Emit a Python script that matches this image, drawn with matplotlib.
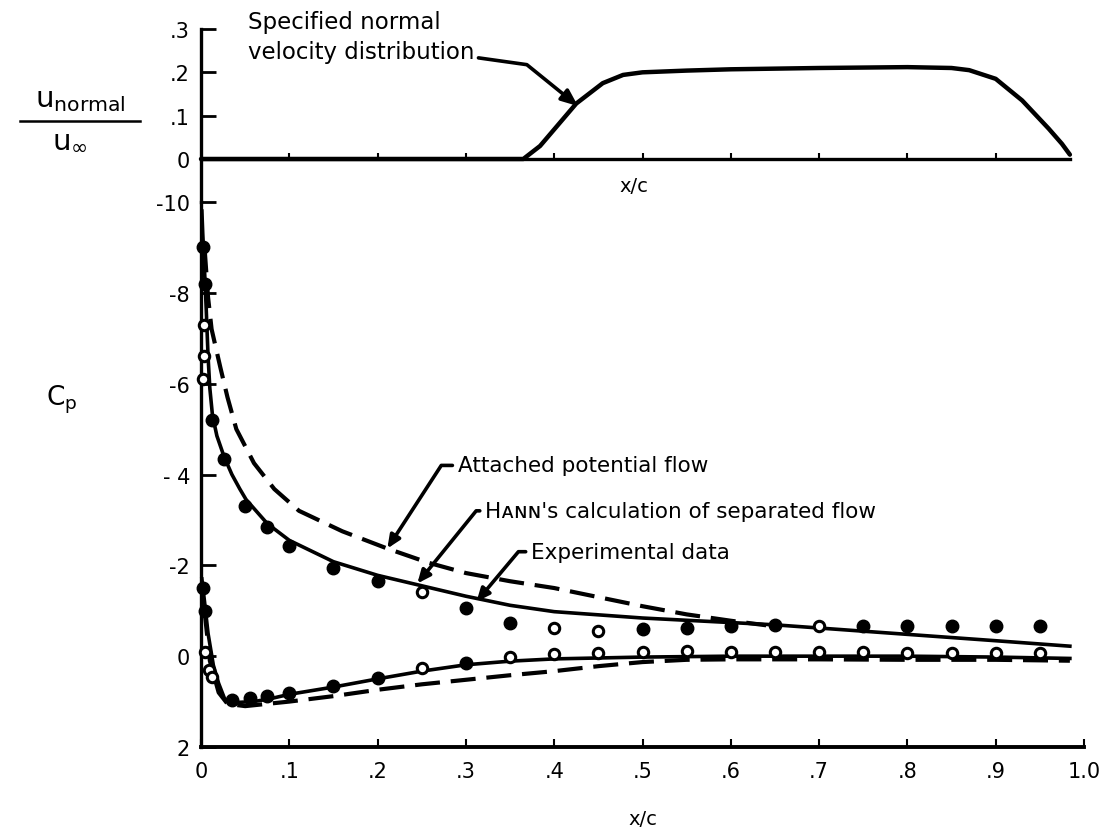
import matplotlib.pyplot as plt
from matplotlib.lines import Line2D

plt.rcParams['font.family'] = ['DejaVu Sans']

# top panel: specified normal velocity distribution
vn_x = [0.0, 0.365, 0.384, 0.425, 0.455, 0.478, 0.50, 0.55, 0.60, 0.70, 0.80,
        0.85, 0.87, 0.90, 0.93, 0.96, 0.975, 0.984]
vn_u = [0.0, 0.0, 0.03, 0.128, 0.175, 0.194, 0.200, 0.204, 0.207, 0.210, 0.212,
        0.210, 0.205, 0.185, 0.135, 0.070, 0.035, 0.010]

# Hahn's calculation of separated flow (solid), upper and lower surface
hahn_up_x = [0.001, 0.002, 0.004, 0.006, 0.008, 0.010, 0.013, 0.018, 0.026, 0.035,
             0.044, 0.051, 0.075, 0.10, 0.15, 0.20, 0.25, 0.30, 0.35, 0.40,
             0.50, 0.60, 0.65, 0.70, 0.80, 0.90, 0.984]
hahn_up_cp = [-9.8, -9.3, -8.5, -7.6, -6.6, -5.9, -5.3, -4.85, -4.4, -4.0,
              -3.68, -3.45, -2.92, -2.55, -2.08, -1.78, -1.55, -1.32, -1.12, -0.98,
              -0.84, -0.74, -0.69, -0.62, -0.48, -0.34, -0.22]
hahn_lo_x = [0.001, 0.004, 0.008, 0.014, 0.02, 0.027, 0.04, 0.06, 0.08, 0.10,
             0.15, 0.20, 0.25, 0.30, 0.35, 0.40, 0.50, 0.60, 0.70, 0.80, 0.90, 0.984]
hahn_lo_cp = [-1.7, -1.2, -0.5, 0.2, 0.6, 0.95, 1.02, 1.0, 0.93, 0.84,
              0.68, 0.50, 0.33, 0.19, 0.11, 0.06, 0.02, 0.0, 0.0, 0.0, 0.02, 0.05]

# attached potential flow (dashed)
att_up_x = [0.004, 0.008, 0.012, 0.022, 0.03, 0.04, 0.06, 0.083, 0.111, 0.16,
            0.211, 0.257, 0.30, 0.35, 0.40, 0.45, 0.50, 0.55, 0.60, 0.64]
att_up_cp = [-9.0, -7.9, -7.2, -6.35, -5.7, -5.0, -4.25, -3.68, -3.2, -2.75,
             -2.37, -2.06, -1.83, -1.65, -1.5, -1.3, -1.1, -0.92, -0.78, -0.68]
att_lo_x = [0.004, 0.01, 0.02, 0.03, 0.05, 0.10, 0.15, 0.20, 0.25, 0.30,
            0.35, 0.40, 0.45, 0.50, 0.55, 0.60, 0.70, 0.80, 0.90, 0.984]
att_lo_cp = [-1.0, 0.1, 0.8, 1.05, 1.1, 1.0, 0.88, 0.74, 0.62, 0.52,
             0.42, 0.33, 0.22, 0.13, 0.08, 0.07, 0.07, 0.08, 0.08, 0.10]

# experimental data (1 = filled symbol, 0 = open symbol)
exp_up_x = [0.002, 0.004, 0.003, 0.003, 0.002, 0.012, 0.026, 0.05, 0.075, 0.10,
            0.15, 0.20, 0.25, 0.30, 0.35, 0.40, 0.45, 0.50, 0.55, 0.60,
            0.65, 0.70, 0.75, 0.80, 0.85, 0.90, 0.95]
exp_up_cp = [-9.0, -8.2, -7.3, -6.6, -6.1, -5.2, -4.35, -3.3, -2.85, -2.42,
             -1.95, -1.65, -1.42, -1.05, -0.72, -0.62, -0.55, -0.60, -0.62, -0.66,
             -0.68, -0.66, -0.66, -0.66, -0.66, -0.66, -0.66]
exp_up_filled = [1, 1, 0, 0, 0, 1, 1, 1, 1, 1, 1, 1, 0, 1, 1, 0, 0, 1, 1, 1,
                 1, 0, 1, 1, 1, 1, 1]
exp_lo_x = [0.002, 0.004, 0.005, 0.009, 0.012, 0.035, 0.055, 0.075, 0.10, 0.15,
            0.20, 0.25, 0.30, 0.35, 0.40, 0.45, 0.50, 0.55, 0.60, 0.65,
            0.70, 0.75, 0.80, 0.85, 0.90, 0.95]
exp_lo_cp = [-1.5, -1.0, -0.1, 0.3, 0.45, 0.97, 0.92, 0.87, 0.80, 0.66,
             0.47, 0.26, 0.14, 0.02, -0.04, -0.08, -0.10, -0.12, -0.10, -0.10,
             -0.10, -0.10, -0.08, -0.06, -0.06, -0.06]
exp_lo_filled = [1, 1, 0, 0, 0, 1, 1, 1, 1, 1, 1, 0, 1, 0, 0, 0, 0, 0, 0, 0,
                 0, 0, 0, 0, 0, 0]

x_ticks = [0.0, 0.1, 0.2, 0.3, 0.4, 0.5, 0.6, 0.7, 0.8, 0.9, 1.0]
x_ticklabels = ['0', '.1', '.2', '.3', '.4', '.5', '.6', '.7', '.8', '.9', '1.0']
cp_ticks = [-10, -8, -6, -4, -2, 0, 2]
cp_ticklabels = ['-10', '-8', '-6', '- 4', '-2', '0', '2']
u_ticks = [0.0, 0.1, 0.2, 0.3]
u_ticklabels = ['0', '.1', '.2', '.3']

W, H = 1109, 828
fig = plt.figure(figsize=(W / 100, H / 100), dpi=100)

left = 201 / W
width = 883 / W
y_split = 1 - 203 / H
y_bottom = 1 - 748 / H
y_top = 1 - 30 / H

ax_top = fig.add_axes([left, y_split, width, y_top - y_split])
ax = fig.add_axes([left, y_bottom, width, y_split - y_bottom])

# ---- top panel ----
ax_top.set_xlim(0, 1.0)
ax_top.set_ylim(-(203 - 160) / 433, 0.3)
for s in ['top', 'right']:
    ax_top.spines[s].set_visible(False)
ax_top.spines['left'].set_linewidth(2.4)
ax_top.spines['bottom'].set_position(('data', 0))
ax_top.spines['bottom'].set_bounds(0, 0.984)
ax_top.spines['bottom'].set_linewidth(2.4)
ax_top.set_yticks(u_ticks)
ax_top.set_yticklabels(u_ticklabels)
ax_top.set_xticks([0.1, 0.2, 0.3, 0.4, 0.5, 0.6, 0.7, 0.8, 0.9])
ax_top.set_xticklabels([])
ax_top.tick_params(axis='y', direction='in', length=11, width=2, labelsize=15, pad=8)
ax_top.tick_params(axis='x', direction='in', length=4, width=1.5)
ax_top.plot(vn_x, vn_u, color='black', lw=3.2, solid_capstyle='round', clip_on=False)
ax_top.text(0.49, -0.062, 'x/c', fontsize=14, ha='center', va='center')

ax_top.text(0.053, 0.318, 'Specified normal', fontsize=16.5, ha='left', va='center')
ax_top.annotate('velocity distribution', xy=(0.427, 0.122), xytext=(0.053, 0.248),
                fontsize=16.5, ha='left', va='center', annotation_clip=False,
                arrowprops=dict(arrowstyle='-|>,head_length=0.6,head_width=0.25',
                                lw=2.6, color='black', shrinkA=1, shrinkB=0,
                                relpos=(1.0, 0.25),
                                connectionstyle='angle,angleA=-8,angleB=141,rad=0'))

# ---- main Cp panel ----
ax.set_xlim(0, 1.0)
ax.set_ylim(2, -10)
for s in ['top', 'right']:
    ax.spines[s].set_visible(False)
ax.spines['left'].set_linewidth(2.4)
ax.spines['bottom'].set_linewidth(2.8)
ax.set_yticks(cp_ticks)
ax.set_yticklabels(cp_ticklabels)
ax.set_xticks(x_ticks)
ax.set_xticklabels(x_ticklabels)
ax.tick_params(axis='y', direction='in', length=11, width=2, labelsize=15, pad=8)
ax.tick_params(axis='x', direction='in', length=6, width=1.5, labelsize=15, pad=10)
ax.set_xlabel('x/c', fontsize=14, labelpad=20)

dash = (6, 2.6)
ax.plot(att_up_x, att_up_cp, color='black', lw=3.0, dashes=dash, clip_on=False)
ax.plot(att_lo_x, att_lo_cp, color='black', lw=3.0, dashes=dash, clip_on=False)
ax.plot(hahn_up_x, hahn_up_cp, color='black', lw=2.6, clip_on=False)
ax.plot(hahn_lo_x, hahn_lo_cp, color='black', lw=2.6, clip_on=False)

for xs, cps, fl in [(exp_up_x, exp_up_cp, exp_up_filled),
                    (exp_lo_x, exp_lo_cp, exp_lo_filled)]:
    fx = [x for x, f in zip(xs, fl) if f]
    fy = [c for c, f in zip(cps, fl) if f]
    ox = [x for x, f in zip(xs, fl) if not f]
    oy = [c for c, f in zip(cps, fl) if not f]
    ax.plot(fx, fy, 'o', color='black', ms=9, clip_on=False, zorder=4)
    ax.plot(ox, oy, 'o', mfc='white', mec='black', mew=2.2, ms=7.5,
            clip_on=False, zorder=4)

label_kw = dict(fontsize=15.5, ha='left', va='center', annotation_clip=False)
arrow_kw = dict(arrowstyle='-|>,head_length=0.5,head_width=0.22', lw=2.6,
                color='black', shrinkA=2, shrinkB=0, relpos=(0.0, 0.5))
ax.annotate('Attached potential flow', xy=(0.211, -2.37), xytext=(0.291, -4.2),
            arrowprops=dict(connectionstyle='angle,angleA=0,angleB=57,rad=0', **arrow_kw),
            **label_kw)
ax.annotate("H\u1d00\u0274\u0274's calculation of separated flow", xy=(0.245, -1.6),
            xytext=(0.322, -3.2),
            arrowprops=dict(connectionstyle='angle,angleA=0,angleB=51,rad=0', **arrow_kw),
            **label_kw)
ax.annotate('Experimental data', xy=(0.312, -1.2), xytext=(0.374, -2.3),
            arrowprops=dict(connectionstyle='angle,angleA=0,angleB=50,rad=0', **arrow_kw),
            **label_kw)

# axis titles on the left
fig.text(62 / W, 1 - 400 / H, r'$\mathregular{C_p}$', fontsize=19, ha='center', va='center')
fig.text(80 / W, 1 - 100 / H, r'$\mathregular{u_{normal}}$', fontsize=21,
         ha='center', va='center')
fig.add_artist(Line2D([20 / W, 140 / W], [1 - 122 / H, 1 - 122 / H],
                      transform=fig.transFigure, color='black', lw=1.8))
fig.text(70 / W, 1 - 140 / H, r'$\mathregular{u_\infty}$', fontsize=21,
         ha='center', va='center')

fig.savefig('out.png', dpi=100)
